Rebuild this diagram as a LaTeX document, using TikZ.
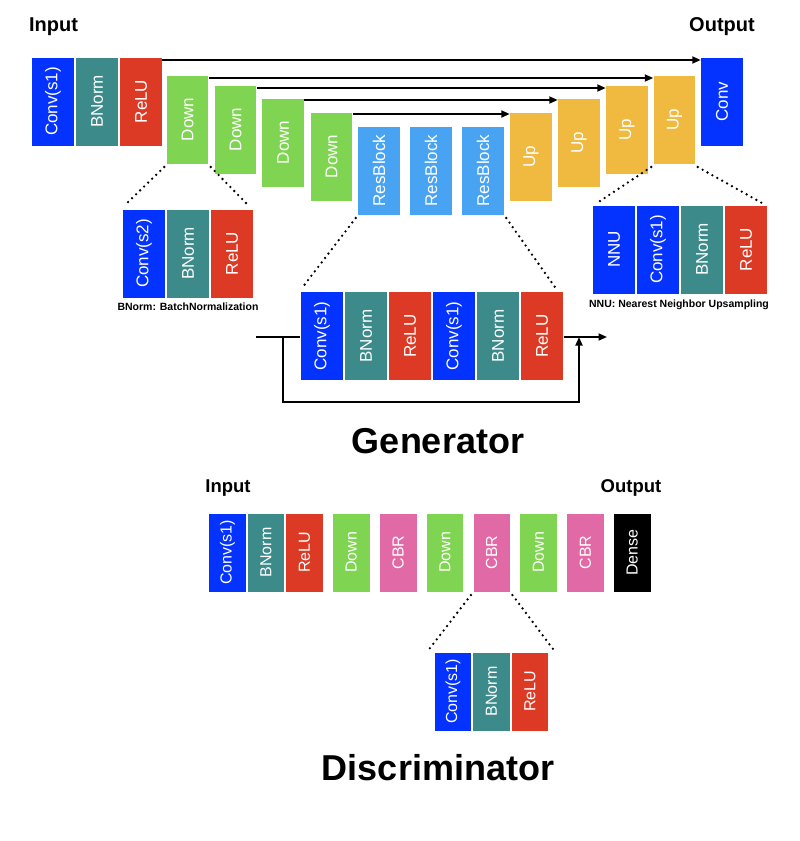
\documentclass[tikz,border=0pt]{standalone}
\usepackage{fontspec}
\setmainfont{Liberation Sans}
\usepackage{graphicx}
\usepackage{xcolor}
\usepackage{tikz}
\usetikzlibrary{positioning, arrows.meta}

\definecolor{convblue}{RGB}{4,51,255}
\definecolor{normteal}{RGB}{60,138,138}
\definecolor{relured}{RGB}{220,58,37}
\definecolor{downgreen}{RGB}{127,212,82}
\definecolor{resblue}{RGB}{73,163,243}
\definecolor{upyellow}{RGB}{240,186,64}
\definecolor{cbrpink}{RGB}{225,105,165}

\newcommand{\vtxt}[1]{\rotatebox{90}{#1}}

\begin{document}
\begin{tikzpicture}[
    x=1pt, y=-1pt,
    node distance=1.5pt,
    every node/.style={inner sep=0pt, outer sep=0pt},
    layer/.style={
        draw=white,
        line width=0.6pt,
        fill=#1,
        text=white,
        minimum width=42.5pt,
        minimum height=89pt,
        font=\fontsize{17}{20}\selectfont
    },
    slim/.style={layer=#1, minimum width=37.5pt, minimum height=79pt, font=\fontsize{16}{19}\selectfont},
    iolabel/.style={font=\bfseries\fontsize{20}{24}\selectfont},
    heading/.style={font=\bfseries\fontsize{36}{40}\selectfont},
    note/.style={font=\bfseries\fontsize{10.5}{12}\selectfont},
    arrow/.style={-{Triangle[length=8.5pt,width=7pt]}, line width=1.7pt},
    zoomline/.style={line width=2.6pt, line cap=round, dash pattern=on 0pt off 5.6pt}
]

\useasboundingbox (0,0) rectangle (800,841);

% generator
\node[iolabel] (ginput) at (53.5,27) {Input};
\node[iolabel] (goutput) at (722,27) {Output};

\node[layer=convblue] (gconv) at (53,101.5) {\vtxt{Conv(s1)}};
\node[layer=normteal, right=of gconv] (gnorm) {\vtxt{BNorm}};
\node[layer=relured, right=of gnorm] (grelu) {\vtxt{ReLU}};

\node[layer=downgreen] (down1) at (187.5,119.5) {\vtxt{Down}};
\node[layer=downgreen] (down2) at (235.5,129.5) {\vtxt{Down}};
\node[layer=downgreen] (down3) at (283,142.5) {\vtxt{Down}};
\node[layer=downgreen] (down4) at (331.5,156.5) {\vtxt{Down}};

\node[layer=resblue] (res1) at (379,170.5) {\vtxt{ResBlock}};
\node[layer=resblue] (res2) at (431,170.5) {\vtxt{ResBlock}};
\node[layer=resblue] (res3) at (483,170.5) {\vtxt{ResBlock}};

\node[layer=upyellow] (up1) at (531,156.5) {\vtxt{Up}};
\node[layer=upyellow] (up2) at (579,142.5) {\vtxt{Up}};
\node[layer=upyellow] (up3) at (627,129.5) {\vtxt{Up}};
\node[layer=upyellow] (up4) at (674.5,119.5) {\vtxt{Up}};

\node[layer=convblue] (gout) at (722,101.5) {\vtxt{Conv}};

\draw[arrow] ([yshift=-3pt]grelu.north east) -- ([yshift=-3pt]gout.north west);
\draw[arrow] ([yshift=-3pt]down1.north east) -- ([yshift=-3pt]up4.north west);
\draw[arrow] ([yshift=-3pt]down2.north east) -- ([yshift=-3pt]up3.north west);
\draw[arrow] ([yshift=-2pt]down3.north east) -- ([yshift=-2pt]up2.north west);
\draw[arrow] ([yshift=-2pt]down4.north east) -- ([yshift=-2pt]up1.north west);

% down block
\node[layer=convblue] (dconv) at (144,253.5) {\vtxt{Conv(s2)}};
\node[layer=normteal, right=of dconv] (dnorm) {\vtxt{BNorm}};
\node[layer=relured, right=of dnorm] (drelu) {\vtxt{ReLU}};
\node[note, below=5pt of dnorm] (dnote) {BNorm: BatchNormalization};

\coordinate (dzl) at (126,204);
\coordinate (dzr) at (247,204);
\draw[zoomline] ([shift={(-2pt,-3pt)}]down1.south west) -- (dzl);
\draw[zoomline] ([shift={(2pt,-3pt)}]down1.south east) -- (dzr);

% up block
\node[layer=convblue] (unnu) at (614,249.5) {\vtxt{NNU}};
\node[layer=convblue, right=of unnu] (uconv) {\vtxt{Conv(s1)}};
\node[layer=normteal, right=of uconv] (unorm) {\vtxt{BNorm}};
\node[layer=relured, right=of unorm] (urelu) {\vtxt{ReLU}};
\node[note] (unote) at (679,304.5) {NNU: Nearest Neighbor Upsampling};

\coordinate (uzl) at (597,203);
\coordinate (uzr) at (762,203);
\draw[zoomline] ([shift={(-2pt,-3pt)}]up4.south west) -- (uzl);
\draw[zoomline] ([shift={(2pt,-3pt)}]up4.south east) -- (uzr);

% residual block
\coordinate (rin) at (256,337);
\coordinate (rout) at (607,337);
\coordinate (rsplit) at (283,337);
\coordinate (rjoin) at (579,337);
\draw[arrow] (rin) -- (rout);
\draw[arrow] (rsplit) -- ++(0,65) -| (rjoin);

\node[layer=convblue] (rconv1) at (322,336) {\vtxt{Conv(s1)}};
\node[layer=normteal, right=of rconv1] (rnorm1) {\vtxt{BNorm}};
\node[layer=relured, right=of rnorm1] (rrelu1) {\vtxt{ReLU}};
\node[layer=convblue, right=of rrelu1] (rconv2) {\vtxt{Conv(s1)}};
\node[layer=normteal, right=of rconv2] (rnorm2) {\vtxt{BNorm}};
\node[layer=relured, right=of rnorm2] (rrelu2) {\vtxt{ReLU}};

\coordinate (rzl) at (302,288);
\coordinate (rzr) at (557,290);
\draw[zoomline] ([shift={(-2pt,-3pt)}]res1.south west) -- (rzl);
\draw[zoomline] ([shift={(2pt,-3pt)}]res3.south east) -- (rzr);

\node[heading] (gtitle) at (438,441.5) {Generator};

% discriminator
\node[iolabel, font=\bfseries\fontsize{18.5}{22}\selectfont] (dinput) at (228,488) {Input};
\node[iolabel, font=\bfseries\fontsize{18.5}{22}\selectfont] (doutput) at (631,488) {Output};

\node[slim=convblue] (cconv) at (227.5,552.5) {\vtxt{Conv(s1)}};
\node[slim=normteal, right=1pt of cconv] (cnorm) {\vtxt{BNorm}};
\node[slim=relured, right=1pt of cnorm] (crelu) {\vtxt{ReLU}};
\node[slim=downgreen, right=9.3pt of crelu] (cdown1) {\vtxt{Down}};
\node[slim=cbrpink, right=9.3pt of cdown1] (cbr1) {\vtxt{CBR}};
\node[slim=downgreen, right=9.3pt of cbr1] (cdown2) {\vtxt{Down}};
\node[slim=cbrpink, right=9.3pt of cdown2] (cbr2) {\vtxt{CBR}};
\node[slim=downgreen, right=9.3pt of cbr2] (cdown3) {\vtxt{Down}};
\node[slim=cbrpink, right=9.3pt of cdown3] (cbr3) {\vtxt{CBR}};
\node[slim=black, right=9.3pt of cbr3] (dense) {\vtxt{Dense}};

% cbr block
\node[slim=convblue] (bconv) at (453,691.5) {\vtxt{Conv(s1)}};
\node[slim=normteal, right=1pt of bconv] (bnorm) {\vtxt{BNorm}};
\node[slim=relured, right=1pt of bnorm] (brelu) {\vtxt{ReLU}};

\coordinate (bzl) at (427,652);
\coordinate (bzr) at (556,653);
\draw[zoomline] ([shift={(-2pt,-3pt)}]cbr2.south west) -- (bzl);
\draw[zoomline] ([shift={(2pt,-3pt)}]cbr2.south east) -- (bzr);

\node[heading] (dtitle) at (438,768) {Discriminator};

\end{tikzpicture}
\end{document}
